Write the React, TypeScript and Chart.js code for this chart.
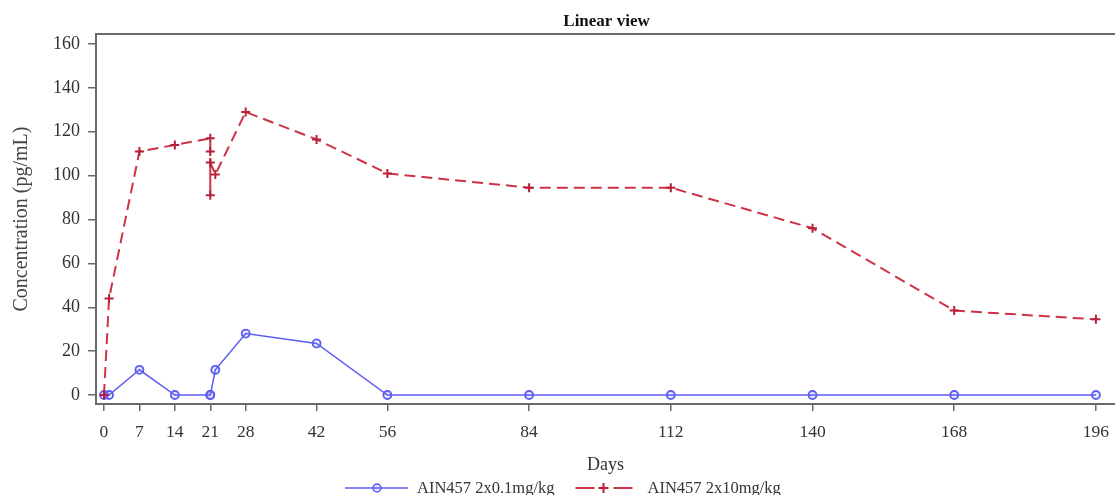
import { useEffect, useRef } from "react";
import { Chart, registerables } from "chart.js";

Chart.register(...registerables);

const chartTitle = "Linear view";
const xTitle = "Days";
const yTitle = "Concentration (pg/mL)";
const seriesLabels = ["AIN457 2x0.1mg/kg", "AIN457 2x10mg/kg"];

const xTickValues = [0, 7, 14, 21, 28, 42, 56, 84, 112, 140, 168, 196];
const yTickValues = [0, 20, 40, 60, 80, 100, 120, 140, 160];

const lowDoseDays = [0, 1, 7, 14, 21, 21, 22, 28, 42, 56, 84, 112, 140, 168, 196];
const lowDoseConc = [0, 0, 11.5, 0, 0, 0, 11.5, 28, 23.5, 0, 0, 0, 0, 0, 0];

const highDoseDays = [0, 1, 7, 14, 21, 21, 21, 21, 22, 28, 42, 56, 84, 112, 140, 168, 196];
const highDoseConc = [0, 44, 111, 114, 117, 111, 91, 106, 100.5, 129, 116.5, 101, 94.5, 94.5, 76, 38.5, 34.5];

const BLUE = "#5c5cf2";
const RED = "#cc3347";
const RED_PT = "#b8203a";
const AXIS = "#6a6a6a";
const SERIF = '"Liberation Serif", "DejaVu Serif", serif';

const overlayPlugin = {
  id: "overlay",
  afterDraw(chart: any) {
    const { ctx, chartArea } = chart;
    ctx.save();
    // top frame line
    ctx.strokeStyle = AXIS;
    ctx.lineWidth = 2;
    ctx.beginPath();
    ctx.moveTo(chartArea.left - 1, chartArea.top);
    ctx.lineTo(chartArea.right, chartArea.top);
    ctx.stroke();

    // title
    ctx.fillStyle = "#111";
    ctx.font = `bold 17px ${SERIF}`;
    ctx.textAlign = "center";
    ctx.textBaseline = "middle";
    ctx.fillText(chartTitle, (chartArea.left + chartArea.right) / 2 + 1, 22);

    // legend
    const ly = 488;
    ctx.font = `16.5px ${SERIF}`;
    ctx.textAlign = "left";
    let x = 345;
    ctx.strokeStyle = BLUE;
    ctx.lineWidth = 1.5;
    ctx.beginPath();
    ctx.moveTo(x, ly);
    ctx.lineTo(x + 63, ly);
    ctx.stroke();
    ctx.beginPath();
    ctx.arc(x + 32, ly, 4, 0, Math.PI * 2);
    ctx.fillStyle = "rgba(92,92,242,0.2)";
    ctx.fill();
    ctx.stroke();
    ctx.fillStyle = "#333";
    ctx.fillText(seriesLabels[0], x + 72, ly + 1);
    const w0 = ctx.measureText(seriesLabels[0]).width;
    x = x + 72 + w0 + 21;
    ctx.strokeStyle = RED;
    ctx.lineWidth = 2;
    ctx.beginPath();
    ctx.moveTo(x, ly);
    ctx.lineTo(x + 19, ly);
    ctx.moveTo(x + 38, ly);
    ctx.lineTo(x + 57, ly);
    ctx.stroke();
    ctx.strokeStyle = RED_PT;
    ctx.beginPath();
    ctx.moveTo(x + 23, ly);
    ctx.lineTo(x + 33, ly);
    ctx.moveTo(x + 28, ly - 5);
    ctx.lineTo(x + 28, ly + 5);
    ctx.stroke();
    ctx.fillStyle = "#333";
    ctx.fillText(seriesLabels[1], x + 72, ly + 1);
    ctx.restore();
  },
};

export default function App() {
  const ref = useRef<HTMLCanvasElement | null>(null);

  useEffect(() => {
    document.body.style.margin = "0";
    const canvas = ref.current;
    if (!canvas) return;
    const chart = new Chart(canvas, {
      type: "scatter",
      data: {
        datasets: [
          {
            label: seriesLabels[0],
            data: lowDoseDays.map((d, i) => ({ x: d, y: lowDoseConc[i] })),
            showLine: true,
            borderColor: BLUE,
            borderWidth: 1.5,
            pointStyle: "circle",
            pointRadius: 4,
            pointBorderWidth: 1.8,
            pointBorderColor: BLUE,
            pointBackgroundColor: "rgba(92,92,242,0.15)",
            clip: false,
            order: 2,
          },
          {
            label: seriesLabels[1],
            data: highDoseDays.map((d, i) => ({ x: d, y: highDoseConc[i] })),
            showLine: true,
            borderColor: RED,
            borderWidth: 2,
            borderDash: [11, 6],
            pointStyle: "cross",
            pointRadius: 4.5,
            pointBorderWidth: 2,
            pointBorderColor: RED_PT,
            pointBackgroundColor: RED_PT,
            clip: false,
            order: 1,
          },
        ],
      },
      options: {
        responsive: false,
        animation: false,
        layout: { autoPadding: false, padding: { top: 34, bottom: 19, left: 0, right: 0 } },
        plugins: {
          legend: { display: false },
          title: { display: false },
          tooltip: { enabled: false },
        },
        scales: {
          x: {
            type: "linear",
            min: -1.58,
            max: 199.77,
            afterBuildTicks: (s: any) => {
              s.ticks = xTickValues.map((v) => ({ value: v }));
            },
            afterFit: (s: any) => {
              s.height = 72;
              s.paddingLeft = 0;
              s.paddingRight = 0;
            },
            ticks: {
              autoSkip: false,
              maxRotation: 0,
              padding: 11,
              color: "#333",
              font: { family: SERIF, size: 17.5 },
              callback: (v: any) => String(v),
            },
            grid: {
              display: true,
              drawOnChartArea: false,
              drawTicks: true,
              tickLength: 7,
              color: AXIS,
              lineWidth: 1.5,
            },
            border: { display: true, color: AXIS, width: 2 },
            title: {
              display: true,
              text: xTitle,
              color: "#333",
              font: { family: SERIF, size: 18 },
              padding: { top: 0, bottom: 0 },
            },
          },
          y: {
            type: "linear",
            min: -4.1,
            max: 164.56,
            afterBuildTicks: (s: any) => {
              s.ticks = yTickValues.map((v) => ({ value: v }));
            },
            afterFit: (s: any) => {
              s.width = 96;
              s.paddingTop = 0;
              s.paddingBottom = 0;
            },
            ticks: {
              padding: 8,
              color: "#333",
              font: { family: SERIF, size: 18 },
              callback: (v: any) => String(v),
            },
            grid: {
              display: true,
              drawOnChartArea: false,
              drawTicks: true,
              tickLength: 8,
              color: AXIS,
              lineWidth: 1.5,
            },
            border: { display: true, color: AXIS, width: 2 },
            title: {
              display: true,
              text: yTitle,
              color: "#444",
              font: { family: SERIF, size: 20 },
              padding: { top: 10, bottom: 0 },
            },
          },
        },
      },
      plugins: [overlayPlugin],
    });
    return () => chart.destroy();
  }, []);

  return (
    <canvas
      ref={ref}
      width={1115}
      height={495}
      style={{ position: "absolute", left: 0, top: 0, width: 1115, height: 495 }}
    />
  );
}
